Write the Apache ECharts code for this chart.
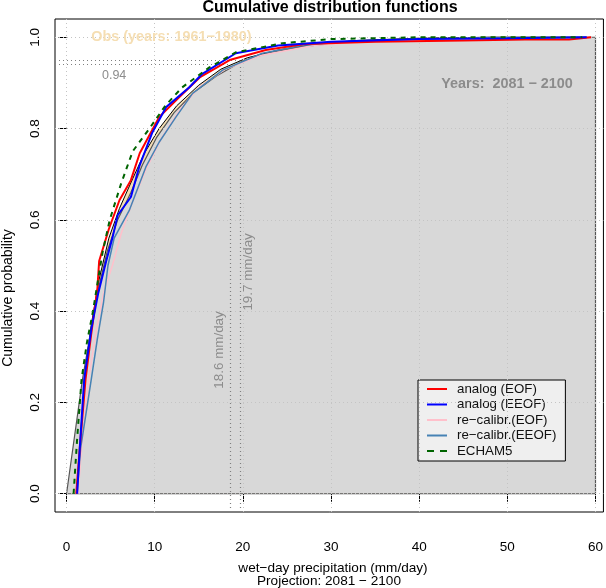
<!DOCTYPE html>
<html>
<head>
<meta charset="utf-8">
<script src="https://cdn.jsdelivr.net/npm/echarts@6/dist/echarts.min.js"></script>
<style>html,body{margin:0;padding:0;background:#fff}#c{width:606px;height:588px}</style>
</head>
<body>
<div id="c"></div>
<script>
// ---- data (x: mm/day, y: cumulative probability) ----
var xTicks = [0, 10, 20, 30, 40, 50, 60];
var yTicks = [0, 0.2, 0.4, 0.6, 0.8, 1.0];
var obsCDF = [[0.9,0],[1.4,0.12],[2.0,0.25],[2.8,0.37],[3.7,0.47],[4.8,0.56],[6.0,0.625],[7.5,0.69],[8.8,0.745],[10.5,0.8],[12.5,0.85],[15,0.895],[17.5,0.93],[20.5,0.955],[24,0.972],[28,0.985],[33,0.993],[40,0.998],[48,1.0],[58.5,1.0]];
var projFill = [[0,0],[1.8,0.25],[2.6,0.34],[3.5,0.44],[4.6,0.53],[5.8,0.6],[7.3,0.66],[8.6,0.72],[10.2,0.78],[12.2,0.835],[14.5,0.88],[17,0.915],[20,0.948],[23,0.966],[27,0.98],[32,0.99],[40,0.997],[48,1.0],[60,1.0],[60,0],[0,0]];
var analogEOF = [[1.1,0],[1.5,0.1],[2.15,0.25],[2.8,0.35],[3.5,0.45],[3.7,0.51],[4.8,0.58],[6.0,0.643],[7.3,0.687],[8.3,0.746],[10.5,0.825],[12.8,0.869],[15.1,0.912],[18.5,0.95],[22.6,0.972],[27,0.985],[35,0.99],[45,0.993],[52,0.995],[57,0.995],[59.5,1.0]];
var analogEEOF = [[1.2,0],[1.5,0.1],[2.0,0.25],[2.8,0.36],[3.6,0.44],[4.5,0.51],[5.2,0.56],[5.8,0.61],[7.3,0.65],[8.3,0.72],[9.7,0.79],[11.3,0.847],[13.9,0.89],[15.4,0.92],[19.2,0.965],[24,0.982],[30,0.99],[40,0.996],[50,0.998],[59,1.0]];
var recalEOF = [[1.3,0],[1.8,0.12],[2.5,0.25],[3.3,0.35],[4.2,0.44],[5.2,0.5],[6.2,0.57],[7.5,0.64],[9.0,0.71],[10.8,0.78],[12.8,0.84],[15,0.89],[18,0.93],[22,0.96],[28,0.982],[35,0.992],[45,0.997],[59,1.0]];
var recalEEOF = [[1.2,0],[1.6,0.1],[2.8,0.25],[3.5,0.34],[4.2,0.42],[4.7,0.5],[5.4,0.56],[7.1,0.62],[9.0,0.716],[10.5,0.77],[12.4,0.825],[14.3,0.877],[17.7,0.928],[22.2,0.965],[27,0.983],[32,0.99],[40,0.996],[50,0.999],[59,1.0]];
var echam5 = [[0.8,0],[1.2,0.12],[1.7,0.25],[2.3,0.33],[3.0,0.4],[3.5,0.46],[4.1,0.53],[4.9,0.6],[6.2,0.68],[7.5,0.75],[9.4,0.8],[11.2,0.85],[13.1,0.89],[16.2,0.934],[19.2,0.967],[24.5,0.987],[30,0.996],[40,1.0],[58.5,1.0]];
var q95 = [18.6, 19.7];        // mm/day
var p95 = [0.94, 0.95];        // probability levels
var names = ['analog (EOF)', 'analog (EEOF)', 're\u2212calibr.(EOF)', 're\u2212calibr.(EEOF)', 'ECHAM5'];

var FONT = '"Liberation Sans", Arial, Helvetica, sans-serif';
var XMIN = -1.31, XMAX = 60.9, YMIN = -0.04, YMAX = 1.04;

var chart = echarts.init(document.getElementById('c'), null, {renderer: 'canvas'});

var gridLineData = [];
xTicks.forEach(function (v) { gridLineData.push([{coord: [v, YMIN]}, {coord: [v, YMAX]}]); });
yTicks.forEach(function (v) { gridLineData.push([{coord: [XMIN, v]}, {coord: [XMAX, v]}]); });

var refLineData = [
  [{coord: [q95[0], YMIN]}, {coord: [q95[0], p95[0]]}],
  [{coord: [q95[1], YMIN]}, {coord: [q95[1], p95[1]]}],
  [{coord: [XMIN, p95[0]]}, {coord: [q95[0], p95[0]]}],
  [{coord: [XMIN, p95[1]]}, {coord: [q95[1], p95[1]]}]
];

function lineSeries(name, data, color, width, type, z) {
  return {
    name: name, type: 'line', data: data, symbol: 'none', z: z,
    lineStyle: {color: color, width: width, type: type || 'solid'},
    itemStyle: {color: color},
    animation: false, silent: true
  };
}

var SOLID_ICON = 'path://M0,0h20v2h-20z';
var DASH_ICON = 'path://M0,0h7v2h-7z M13,0h7v2h-7z';

var option = {
  animation: false,
  grid: {left: 55, right: 1, top: 19, bottom: 76, show: true, borderColor: '#000', borderWidth: 1, backgroundColor: '#fff'},
  xAxis: {
    type: 'value', min: XMIN, max: XMAX,
    axisLine: {show: false},
    axisTick: {show: true, length: 8, lineStyle: {color: '#000'}, customValues: xTicks},
    axisLabel: {show: true, customValues: xTicks, margin: 28, color: '#000', fontSize: 13.5, fontFamily: FONT},
    splitLine: {show: false}
  },
  yAxis: {
    type: 'value', min: YMIN, max: YMAX,
    axisLine: {show: false},
    axisTick: {show: true, length: 8, lineStyle: {color: '#000'}, customValues: yTicks},
    axisLabel: {show: true, customValues: yTicks, rotate: 90, margin: 13, color: '#000', fontSize: 13.5, fontFamily: FONT,
      formatter: function (v) { return v.toFixed(1); }},
    splitLine: {show: false}
  },
  legend: {
    data: [
      {name: names[0], icon: SOLID_ICON},
      {name: names[1], icon: SOLID_ICON},
      {name: names[2], icon: SOLID_ICON},
      {name: names[3], icon: SOLID_ICON},
      {name: names[4], icon: DASH_ICON}
    ],
    orient: 'vertical', left: 418, top: 380,
    backgroundColor: '#efefef', borderColor: '#000', borderWidth: 1, borderRadius: 0,
    padding: [2, 9, 3, 9], itemGap: 1.5, itemWidth: 20, itemHeight: 2,
    textStyle: {fontFamily: FONT, fontSize: 13.3, color: '#111', padding: [0, 0, 0, 5], lineHeight: 14},
    selectedMode: false
  },
  series: [
    {name: 'gridlines', type: 'line', data: [], z: 1, silent: true,
      markLine: {silent: true, symbol: 'none', animation: false, label: {show: false},
        lineStyle: {type: [1, 3], color: '#c4c4c4', width: 1}, data: gridLineData}},
    {name: 'obs', type: 'line', data: obsCDF, symbol: 'none', z: 2, silent: true,
      lineStyle: {color: '#000', width: 1}, areaStyle: {color: '#f5deb3', opacity: 1}},
    {name: 'proj', type: 'line', data: projFill, symbol: 'none', z: 3, silent: true,
      lineStyle: {color: '#555', width: 1.2}, areaStyle: {color: '#d8d8d8', opacity: 1}},
    {name: 'reflines', type: 'line', data: [], z: 4, silent: true,
      markLine: {silent: true, symbol: 'none', animation: false, label: {show: false},
        lineStyle: {type: [1, 3], color: '#808080', width: 1.2}, data: refLineData}},
    lineSeries(names[2], recalEOF, '#ffc0cb', 1.5, 'solid', 5),
    lineSeries(names[3], recalEEOF, '#4682b4', 1.5, 'solid', 6),
    lineSeries(names[0], analogEOF, '#ff0000', 2, 'solid', 7),
    lineSeries(names[1], analogEEOF, '#0000ff', 2, 'solid', 8),
    lineSeries(names[4], echam5, '#006400', 2, [5, 5], 9)
  ]
};
chart.setOption(option);

function px(x, y) { return chart.convertToPixel({gridIndex: 0}, [x, y]); }
var pObs = px(2.8, 1.0), pYears = px(42.5, 0.897), p094 = px(5.4, 0.917);
var pL1 = px(17.3, 0.315), pL2 = px(20.6, 0.486);
var grey = '#8c8c8c';
chart.setOption({
  graphic: [
    {type: 'text', x: 330, y: 8, style: {text: 'Cumulative distribution functions', font: 'bold 16px ' + FONT, fill: '#000', textAlign: 'center', textVerticalAlign: 'middle'}},
    {type: 'text', x: 333, y: 568, style: {text: 'wet\u2212day precipitation (mm/day)', font: '13.6px ' + FONT, fill: '#000', textAlign: 'center', textVerticalAlign: 'middle'}},
    {type: 'text', x: 329, y: 581, style: {text: 'Projection: 2081 \u2212 2100', font: '13.6px ' + FONT, fill: '#000', textAlign: 'center', textVerticalAlign: 'middle'}},
    {type: 'text', x: 8, y: 298, rotation: Math.PI / 2, style: {text: 'Cumulative probability', font: '14px ' + FONT, fill: '#000', textAlign: 'center', textVerticalAlign: 'middle'}},
    {type: 'text', x: pObs[0], y: pObs[1], z: 20, style: {text: 'Obs (years: 1961\u22121980)', font: 'bold 14.4px ' + FONT, fill: '#f5deb3', textAlign: 'left', textVerticalAlign: 'middle'}},
    {type: 'text', x: pYears[0], y: pYears[1], z: 20, style: {text: 'Years:  2081 \u2212 2100', font: 'bold 14.4px ' + FONT, fill: grey, textAlign: 'left', textVerticalAlign: 'middle'}},
    {type: 'text', x: p094[0], y: p094[1], z: 20, style: {text: '0.94', font: '12.5px ' + FONT, fill: grey, textAlign: 'center', textVerticalAlign: 'middle'}},
    {type: 'text', x: pL1[0], y: pL1[1], rotation: Math.PI / 2, z: 20, style: {text: '18.6 mm/day', font: '13.4px ' + FONT, fill: grey, textAlign: 'center', textVerticalAlign: 'middle'}},
    {type: 'text', x: pL2[0], y: pL2[1], rotation: Math.PI / 2, z: 20, style: {text: '19.7 mm/day', font: '13.4px ' + FONT, fill: grey, textAlign: 'center', textVerticalAlign: 'middle'}}
  ]
});
</script>
</body>
</html>
